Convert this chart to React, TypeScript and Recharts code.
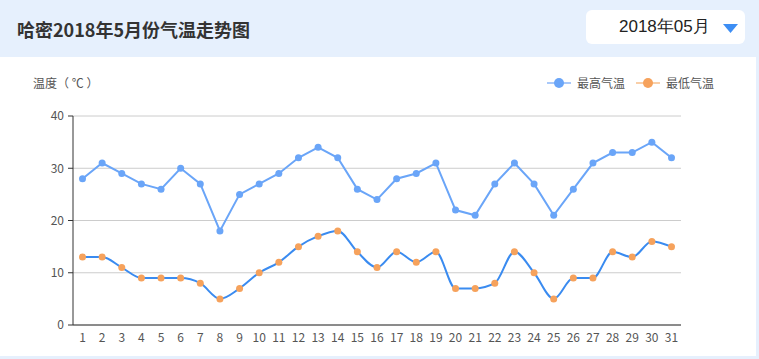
import React from "react";
import {
  LineChart,
  Line,
  XAxis,
  YAxis,
  CartesianGrid,
} from "recharts";

const days = Array.from({ length: 31 }, (_, i) => String(i + 1));
const highTemps = [28, 31, 29, 27, 26, 30, 27, 18, 25, 27, 29, 32, 34, 32, 26, 24, 28, 29, 31, 22, 21, 27, 31, 27, 21, 26, 31, 33, 33, 35, 32];
const lowTemps = [13, 13, 11, 9, 9, 9, 8, 5, 7, 10, 12, 15, 17, 18, 14, 11, 14, 12, 14, 7, 7, 8, 14, 10, 5, 9, 9, 14, 13, 16, 15];
const yTicks = [0, 10, 20, 30, 40];

const HIGH_COLOR = "#6aa5f8";
const LOW_LINE = "#3a8bf0";
const LOW_DOT = "#f6a25c";

const data = days.map((d, i) => ({ day: d, high: highTemps[i], low: lowTemps[i] }));

const FONT = "'Noto Sans CJK SC', 'Noto Sans', sans-serif";

function LegendItem({ label, line, dot }: { label: string; line: string; dot: string }) {
  return (
    <div style={{ display: "flex", alignItems: "center", marginLeft: 11 }}>
      <svg width={24} height={12} style={{ marginRight: 6 }}>
        <line x1={0} y1={6} x2={24} y2={6} stroke={line} strokeWidth={2} />
        <circle cx={12} cy={6} r={5} fill={dot} />
      </svg>
      <span style={{ fontSize: 12, color: "#555" }}>{label}</span>
    </div>
  );
}

export default function App() {
  return (
    <div
      style={{
        position: "absolute",
        top: 0,
        left: 0,
        width: 759,
        height: 359,
        background: "#e6f0fd",
        fontFamily: FONT,
        overflow: "hidden",
      }}
    >
      <div
        style={{
          position: "absolute",
          left: 17,
          top: 16,
          fontSize: 18,
          fontWeight: 700,
          color: "#333",
          lineHeight: "26px",
        }}
      >
        哈密2018年5月份气温走势图
      </div>
      <div
        style={{
          position: "absolute",
          left: 586,
          top: 10,
          width: 159,
          height: 34,
          background: "#fff",
          borderRadius: 6,
        }}
      >
        <span
          style={{
            position: "absolute",
            left: 33,
            top: 5,
            fontSize: 17,
            color: "#222",
            fontFamily: "'Liberation Sans', Arial, sans-serif",
            lineHeight: "24px",
          }}
        >
          2018年05月
        </span>
        <svg width={16} height={10} style={{ position: "absolute", left: 137, top: 14 }}>
          <polygon points="0,0 15,0 7.5,9" fill="#3d8ef4" />
        </svg>
      </div>
      <div
        style={{
          position: "absolute",
          left: 0,
          top: 57,
          width: 756,
          height: 299,
          background: "#fff",
        }}
      >
        <div style={{ position: "absolute", left: 33, top: 17, fontSize: 12, color: "#555", whiteSpace: "pre" }}>
          温度（ ℃ ）
        </div>
        <div style={{ position: "absolute", right: 42, top: 17, display: "flex" }}>
          <LegendItem label="最高气温" line="#a9c9fa" dot={HIGH_COLOR} />
          <LegendItem label="最低气温" line="#f9cfa8" dot={LOW_DOT} />
        </div>
        <LineChart
          width={756}
          height={299}
          data={data}
          margin={{ top: 59, right: 75, bottom: 6, left: 33 }}
        >
          <CartesianGrid vertical={false} stroke="#cccccc" />
          <XAxis
            dataKey="day"
            padding={{ left: 9.5, right: 9.5 }}
            tickLine={false}
            axisLine={{ stroke: "#333" }}
            tick={{ fontSize: 12, fill: "#555" }}
            height={25}
            interval={0}
          />
          <YAxis
            domain={[0, 40]}
            ticks={yTicks}
            width={40}
            tickSize={5}
            tickMargin={4}
            axisLine={{ stroke: "#333" }}
            tickLine={{ stroke: "#333" }}
            tick={{ fontSize: 12, fill: "#555" }}
          />
          <Line
            type="linear"
            dataKey="high"
            name="最高气温"
            stroke={HIGH_COLOR}
            strokeWidth={2}
            dot={{ r: 3.5, fill: HIGH_COLOR, stroke: HIGH_COLOR, strokeWidth: 0 }}
            isAnimationActive={false}
          />
          <Line
            type="monotone"
            dataKey="low"
            name="最低气温"
            stroke={LOW_LINE}
            strokeWidth={2}
            dot={{ r: 3.5, fill: LOW_DOT, stroke: LOW_DOT, strokeWidth: 0 }}
            isAnimationActive={false}
          />
        </LineChart>
      </div>
    </div>
  );
}
